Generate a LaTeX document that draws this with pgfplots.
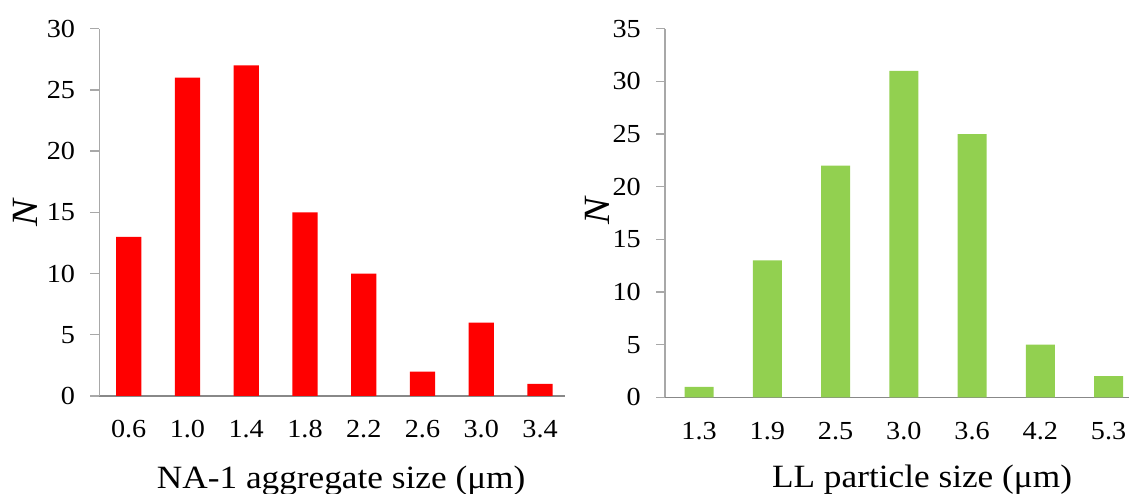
\documentclass[border=0pt]{standalone}
\usepackage{fontspec}
\setmainfont{Liberation Serif}[FakeStretch=1.085]
\usepackage{pgfplots}
\pgfplotsset{compat=1.18}
\definecolor{barred}{HTML}{FF0000}
\definecolor{bargreen}{HTML}{92D050}
\definecolor{ygray}{HTML}{A8A8A8}
\definecolor{xgray}{HTML}{888888}
\pgfplotsset{
  mystyle/.style={
    scale only axis,
    anchor=south west,
    axis lines*=left,
    ybar,
    ymin=0,
    xtick=data,
    tick align=outside,
    major tick length=9pt,
    xtick style={draw=none},
    ytick style={draw=ygray, line width=1.3pt},
    x axis line style={draw=xgray, line width=1.4pt},
    y axis line style={draw=ygray, line width=1.4pt},
    /pgf/number format/assume math mode=true,
    tick label style={font=\fontsize{26}{26}\selectfont, inner sep=0pt},
    yticklabel style={anchor=east, xshift=-15pt},
    xticklabel style={anchor=base, yshift=-33pt},
    label style={font=\fontsize{32.5}{32.5}\selectfont},
    clip=false,
  }
}
\begin{document}
\begin{tikzpicture}[x=1pt,y=1pt]
\begin{axis}[mystyle,
  at={(99.3pt,98pt)},
  width=466pt, height=367.3pt,
  xmin=-0.5, xmax=7.43,
  ymax=30, ytick={0,5,10,15,20,25,30},
  bar width=25.3pt,
  xticklabels={0.6,1.0,1.4,1.8,2.2,2.6,3.0,3.4},
  xlabel={NA-1 aggregate size (μm)},
  xlabel style={at={(axis description cs:0.519,-0.2505)}, anchor=base},
  ylabel={\fontsize{37}{37}\selectfont\textit{N}},
  ylabel style={at={(axis description cs:-0.158,0.5)}, anchor=center, rotate=0},
]
\addplot[fill=barred, draw=none] coordinates {(0,13) (1,26) (2,27) (3,15) (4,10) (5,2) (6,6) (7,1)};
\end{axis}
\begin{axis}[mystyle,
  at={(665pt,96.7pt)},
  width=464pt, height=368.6pt,
  xmin=-0.5, xmax=6.3,
  ymax=35, ytick={0,5,10,15,20,25,30,35},
  bar width=29pt,
  xticklabels={1.3,1.9,2.5,3.0,3.6,4.2,5.3},
  xlabel={LL particle size (μm)},
  xlabel style={at={(axis description cs:0.554,-0.246)}, anchor=base},
  ylabel={\fontsize{37}{37}\selectfont\textit{N}},
  ylabel style={at={(axis description cs:-0.1466,0.508)}, anchor=center, rotate=0},
]
\addplot[fill=bargreen, draw=none] coordinates {(0,1) (1,13) (2,22) (3,31) (4,25) (5,5) (6,2)};
\end{axis}
\pgfresetboundingbox
\path[use as bounding box] (0,0) rectangle (1129,494);
\end{tikzpicture}
\end{document}
